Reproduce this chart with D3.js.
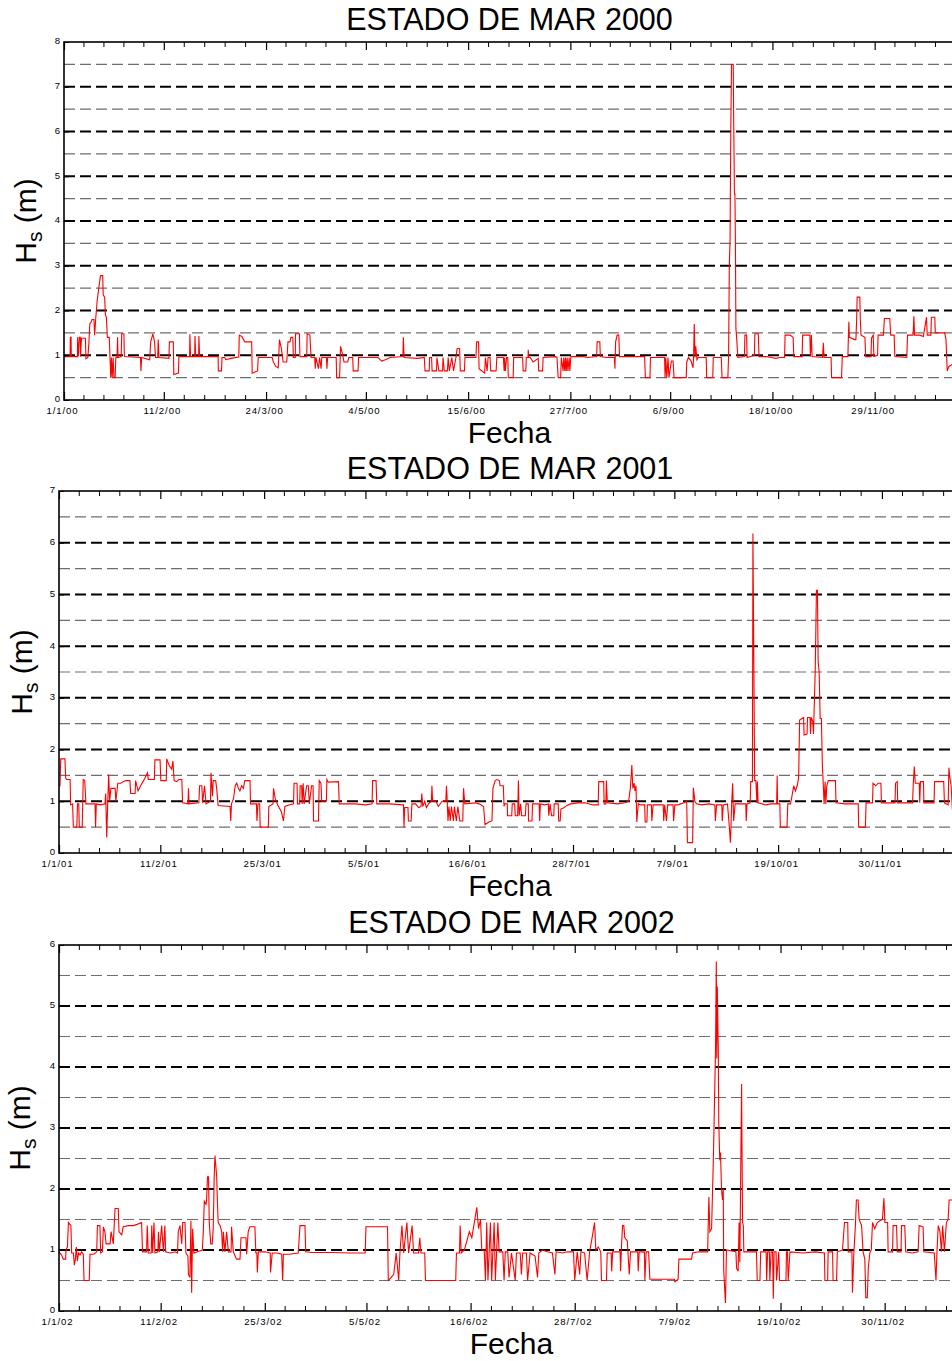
<!DOCTYPE html>
<html><head><meta charset="utf-8">
<script src="https://cdn.jsdelivr.net/npm/d3@7"></script>
<style>
body{margin:0;background:#fff}
svg{display:block}
text{font-family:"Liberation Sans",Arial,Helvetica,sans-serif;fill:#000}
</style>
</head><body>
<svg id="chart" width="952" height="1361"></svg>
<script>
// ---------------- DATA ----------------
const years = [2000, 2001, 2002];
const titles = ["ESTADO DE MAR 2000", "ESTADO DE MAR 2001", "ESTADO DE MAR 2002"];
const yMaxes = [8, 7, 6];
const xLabel = "Fecha";

const ticks2000 = ["1/1/00","11/2/00","24/3/00","4/5/00","15/6/00","27/7/00","6/9/00","18/10/00","29/11/00"];
const ticks2001 = ["1/1/01","11/2/01","25/3/01","5/5/01","16/6/01","28/7/01","7/9/01","19/10/01","30/11/01"];
const ticks2002 = ["1/1/02","11/2/02","25/3/02","5/5/02","16/6/02","28/7/02","7/9/02","19/10/02","30/11/02"];

// [day of year (from 1 January), Hs (m)]
const hs2000 = [[0,0.97],[2.5,0.97],[2.6,1.4],[2.9,1.4],[3,0.97],[5.5,0.97],[5.6,1.4],[5.9,0.97],[6.3,1.4],[6.7,1.4],[6.8,0.97],[7.2,1.38],[8.8,1.38],[9,0.92],[9.8,0.95],[10.2,1.25],[10.6,1.7],[11.2,1.75],[11.5,1.8],[12.3,1.8],[12.6,1.45],[13,1.8],[13.6,2.2],[14.4,2.55],[15,2.78],[15.9,2.78],[16.1,2.35],[16.7,2.3],[17,1.9],[17.4,1.85],[17.8,1.4],[18.6,1.4],[18.9,0.95],[19.2,0.5],[19.5,0.95],[19.8,0.5],[20.2,0.95],[20.5,0.5],[21,0.5],[21.3,0.95],[21.8,0.95],[22,1.4],[22.2,0.95],[23.5,0.97],[23.7,1.48],[24.6,1.48],[24.8,0.97],[31.4,0.95],[31.6,0.65],[31.9,0.95],[35.2,0.9],[35.6,1.3],[36.5,1.48],[37.2,1.3],[37.6,0.95],[38.5,0.95],[38.7,1.35],[39,0.95],[43.1,0.93],[43.3,1.3],[44.9,1.3],[45.1,0.57],[47,0.6],[47.2,0.97],[51.6,0.97],[51.7,1.47],[52,0.97],[53.7,0.97],[53.8,1.43],[54.1,0.97],[55.3,0.97],[55.4,1.43],[55.7,0.97],[63.3,0.97],[63.4,0.65],[64.7,0.65],[64.9,0.95],[66,0.95],[66.5,0.9],[68.5,0.93],[71.8,0.96],[72,1.45],[73,1.42],[74.3,1.3],[77.1,1.3],[77.3,0.6],[79.5,0.65],[79.8,0.95],[85.5,0.95],[86,0.85],[87,0.75],[88,0.72],[88.5,1.35],[89.3,1.15],[90,0.85],[91.5,0.85],[92,1.3],[92.8,1.3],[93.2,1.4],[94,1.4],[94.2,0.95],[95,0.95],[95.1,1.48],[96.7,1.48],[96.9,0.97],[99.7,0.97],[99.9,1.48],[101,1.45],[101.5,0.95],[103,0.95],[103.2,0.7],[103.5,0.95],[104.5,0.7],[105,0.95],[105.6,0.7],[105.9,0.95],[107.8,0.95],[108,0.7],[108.3,0.95],[111.8,0.95],[112,0.5],[113.2,0.5],[113.6,1.2],[114.3,1.05],[115,0.85],[116.5,0.85],[117,0.95],[118.6,0.95],[118.8,0.65],[120.8,0.65],[121,0.95],[129,0.95],[130.5,0.87],[132,0.9],[134,0.95],[139.2,0.97],[139.4,1.4],[139.7,0.95],[145.4,0.93],[148,0.95],[148.3,0.65],[150,0.65],[150.2,0.95],[151,0.95],[151.2,0.65],[153,0.65],[153.2,0.95],[154,0.65],[155.5,0.65],[155.7,0.95],[156.2,0.65],[157.5,0.65],[157.8,0.95],[158.3,0.65],[159.3,0.95],[160,0.65],[161,0.95],[161.5,1.15],[162.5,1.15],[162.8,0.65],[164.5,0.65],[164.7,0.95],[169.2,0.95],[169.5,1.3],[170.3,1.3],[170.5,0.7],[172.8,0.6],[173.1,0.95],[173.8,0.65],[174.2,0.95],[175,0.95],[175.3,0.65],[177.5,0.65],[177.8,0.95],[180.5,0.95],[180.8,0.65],
[181,0.95],[181.3,0.65],[181.8,0.95],[182.3,0.95],[182.5,0.5],[184.5,0.5],[184.7,0.95],[185.2,0.95],[188.4,0.95],[188.6,0.65],[189.7,0.65],[189.9,0.95],[190.6,0.95],[190.7,1.12],[190.9,0.95],[191.5,0.95],[192.7,0.85],[193.5,0.88],[194.8,0.93],[195,0.65],[196.6,0.65],[196.8,0.95],[202,0.97],[202.5,0.95],[203,0.5],[204,0.5],[204.3,0.95],[205,0.65],[205.3,0.95],[205.7,0.65],[206,0.95],[206.3,0.65],[206.7,0.95],[207,0.65],[207.5,0.95],[207.8,0.65],[208.2,0.97],[213.3,0.97],[215,0.95],[218.8,0.97],[219,1.3],[220.1,1.3],[220.3,0.97],[222.9,0.95],[226.1,0.95],[226.3,0.7],[226.6,1.3],[227.2,1.45],[227.9,1.45],[228.2,0.97],[238.5,0.97],[238.8,0.5],[240.7,0.5],[240.9,0.95],[246.7,0.95],[246.9,0.5],[247.2,0.95],[247.6,0.5],[248.1,0.95],[248.5,0.5],[249.5,0.87],[250.2,0.87],[250.6,0.5],[255.6,0.5],[255.8,0.85],[256.5,0.95],[257.6,0.87],[258.4,0.72],[258.6,0.95],[258.9,1.7],[259.2,0.95],[259.5,1.2],[260,0.9],[260.5,0.95],[263.8,0.95],[264,0.5],[266.5,0.5],[266.7,0.95],[270,0.95],[270.3,0.5],[272.7,0.5],[273,1.0],[273.3,3.0],[273.6,3.6],[273.9,6],[274.2,7.5],[274.9,7.5],[275.1,6.2],[275.4,4.6],[275.6,4.6],[275.8,3.5],[276,1.6],[276.3,1.4],[276.8,0.95],[279.5,0.97],[279.7,1.45],[280.4,1.45],[280.6,0.95],[283.6,1.0],[283.8,1.48],[285.2,1.48],[285.5,0.97],[288.6,0.97],[290.5,0.95],[292.5,0.93],[294,0.95],[296,0.95],[296.2,1.45],[298.2,1.45],[299.5,1.4],[299.8,0.97],[303.2,0.97],[303.4,1.45],[306.4,1.45],[306.6,0.97],[307,1.45],[307.3,0.97],[311.6,0.95],[311.9,1.28],[312.2,0.95],[315.1,0.95],[315.3,0.5],[319.4,0.5],[319.7,0.97],[322,0.97],[322.2,1.4],[322.4,1.75],[322.6,1.4],[324.8,1.35],[325.3,1.35],[325.6,1.8],[325.8,2.3],[326.9,2.3],[327.1,1.8],[327.4,1.45],[329,1.4],[329.3,0.97],[331.5,0.97],[331.7,1.38],[332.4,1.45],[332.7,0.97],[334.2,1.0],[334.4,1.45],[336.6,1.45],[337,1.82],[339.2,1.82],[339.6,1.45],[341,1.45],[341.3,0.97],[346.2,0.95],[346.5,1.45],[348.8,1.45],[349.1,1.87],[349.4,1.45],[351.5,1.45],[353,1.42],[354.3,1.85],[354.6,1.45],[356.1,1.45],[356.3,1.85],[357.7,1.85],[357.9,1.5],[361.8,1.5],[362.3,1.35],[362.8,0.65],[363.5,0.75],[365,0.8]];

const hs2001 = [[0,1.3],[0.4,1.3],[0.7,1.82],[2.4,1.82],[2.7,1.45],[3.1,1.42],[4.5,1.42],[4.7,0.93],[5.5,0.95],[5.8,0.5],[7.2,0.5],[7.5,0.95],[8,0.95],[8.2,0.5],[9.4,0.5],[9.8,1.42],[10.4,1.4],[10.9,0.95],[14.6,0.95],[14.8,0.5],[15.1,0.95],[17,0.93],[18.6,0.95],[18.9,1.15],[19.3,0.3],[19.7,0.95],[20.1,1.52],[20.5,1.0],[21,1.25],[22.7,1.25],[23,1.0],[23.8,1.35],[25,1.35],[26,1.38],[27,1.4],[28.7,1.4],[29,1.15],[30.8,1.15],[31,1.4],[32,1.2],[33,1.3],[34,1.38],[34.8,1.45],[35.8,1.55],[36.1,1.42],[38.6,1.42],[38.8,1.8],[40.9,1.8],[41.2,1.4],[43.4,1.4],[43.6,1.82],[44.5,1.7],[45.6,1.62],[46.1,1.78],[46.6,1.4],[47.6,1.38],[48.5,1.42],[49.7,1.42],[50,0.97],[52.2,0.95],[52.4,1.25],[52.6,0.95],[56.6,0.97],[56.9,1.3],[57.8,1.3],[58.1,0.97],[58.9,1.3],[59.5,0.95],[61.3,1.0],[61.5,1.55],[62.1,1.1],[62.4,1.4],[63.4,1.4],[63.8,1.25],[64.4,0.92],[69.2,0.9],[69.5,0.62],[69.8,0.95],[70.6,1.05],[71.3,1.3],[71.9,1.35],[72.6,1.25],[73.2,1.2],[73.9,1.3],[74.6,1.25],[75.2,1.4],[77.3,1.4],[77.5,0.95],[79.9,0.95],[80.1,0.62],[80.5,0.95],[81.2,0.95],[81.4,0.5],[84.7,0.5],[84.9,0.9],[86.6,0.95],[86.8,1.25],[87.5,1.05],[88.5,0.93],[90,0.8],[90.8,0.62],[91.4,0.9],[93,0.93],[94.9,0.95],[95.1,1.35],[96.3,1.35],[96.5,0.95],[97.4,0.95],[97.6,1.3],[98.2,1.3],[98.4,0.95],[98.8,1.35],[99.2,0.95],[100.2,1.3],[100.9,1.3],[101.3,0.95],[102.2,1.3],[102.8,1.3],[103,0.62],[105,0.62],[105.3,1.4],[106,1.35],[106.3,1.0],[108.2,1.0],[108.4,1.42],[109,1.37],[113.1,1.38],[113.4,0.95],[120,0.95],[124,0.93],[126.7,0.95],[126.9,1.4],[128.3,1.4],[128.6,0.95],[134,0.95],[139,0.93],[139.4,0.93],[139.6,0.5],[139.9,0.88],[141.2,0.88],[141.4,0.62],[142.5,0.62],[142.8,0.95],[144.3,0.95],[145.5,0.88],[146.5,0.9],[146.8,1.15],[147.2,0.9],[148,1.0],[148.7,0.88],[149.5,0.95],[150.7,1.0],[150.9,1.3],[151.2,1.0],[152.5,1.0],[153.5,0.9],[155,1.0],[156.5,1.0],[156.8,1.3],[157.1,1.0],[157.4,0.62],[157.8,0.9],[158.3,0.62],[158.8,0.9],[159.6,0.62],[160,0.9],[160.8,0.62],[161.4,0.9],[162.2,0.62],[163.4,0.62],[163.7,1.25],[164.2,0.95],[168.4,0.97],[170,0.95],[171.8,0.9],[172.4,0.55],[174,0.6],[175.2,0.62],[175.6,1.25],[176.5,1.4],[177.2,1.42],[178.2,1.4],[178.5,1.3],[179.8,1.3],[180.1,0.9],
[180.3,0.95],[181.4,0.95],[181.5,0.72],[183.2,0.72],[183.4,0.95],[184.4,0.95],[184.6,0.72],[185.6,0.72],[185.9,1.4],[186.2,0.72],[186.8,0.95],[187.2,0.72],[188.7,0.72],[189,0.95],[189.9,0.95],[190,0.62],[191.4,0.62],[191.6,0.95],[194.3,0.95],[194.5,0.62],[194.8,0.95],[196.5,0.93],[198,0.95],[198.2,0.72],[198.7,0.95],[199.3,0.72],[200.2,0.72],[200.4,0.95],[202,0.95],[202.2,0.62],[202.8,0.62],[203.1,0.85],[204.5,0.88],[205.5,0.92],[207,0.95],[210,0.97],[213,0.97],[216,0.93],[218.2,0.93],[218.4,1.38],[220.4,1.38],[220.6,0.95],[221.3,0.95],[221.5,1.4],[221.9,0.97],[226,0.95],[229,0.97],[230.5,1.0],[231.2,1.25],[231.8,1.7],[232.2,1.25],[232.7,1.35],[233.1,1.2],[233.5,1.3],[233.8,0.6],[234.4,0.95],[235.5,0.93],[237,0.93],[237.2,0.6],[237.9,0.6],[238.1,0.93],[239.7,0.93],[239.9,0.62],[240.4,0.93],[244.5,0.93],[244.7,0.62],[245.1,0.93],[245.8,0.62],[246.3,0.93],[248.5,0.93],[248.7,0.62],[249.2,0.93],[250.5,0.93],[251.5,0.95],[253,0.97],[254,1.0],[254.3,0.2],[256.4,0.2],[256.7,1.26],[257.3,1.0],[258,0.95],[260,0.93],[263,0.95],[265.4,0.93],[265.6,0.62],[266.1,0.93],[268.2,0.93],[268.4,0.62],[268.8,0.93],[270.5,0.95],[271.1,0.6],[271.7,0.2],[272.2,0.95],[272.6,1.35],[273,0.62],[273.6,0.95],[276,0.95],[277.9,0.95],[278.1,0.62],[278.4,0.95],[279.7,0.97],[279.9,1.38],[280.6,1.38],[280.8,6.18],[281.3,2.8],[281.5,1.4],[282,1.4],[282.4,0.97],[282.6,1.38],[282.9,0.97],[286,0.93],[288,0.95],[290.4,0.95],[290.6,1.5],[290.8,0.95],[291.7,0.95],[291.9,0.5],[294.6,0.5],[294.9,0.95],[296,0.95],[296.6,1.1],[297.3,1.3],[298,1.2],[298.7,1.3],[299.3,1.45],[299.7,2.57],[301.3,2.62],[301.5,2.28],[302.7,2.3],[302.9,2.62],[303.9,2.62],[304.1,2.3],[304.4,2.62],[305,2.55],[305.3,2.3],[306,3.5],[306.5,5.08],[306.9,5.08],[307.2,3.7],[307.6,3.5],[308,2.6],[308.5,2.6],[308.9,1.7],[309.2,1.4],[309.6,0.95],[310,1.38],[310.3,0.95],[310.7,1.3],[311.3,1.4],[314.2,1.4],[314.4,0.97],[318,0.95],[323.4,0.95],[323.6,0.5],[326.3,0.5],[326.6,0.97],[329.2,0.97],[329.4,1.35],[330.5,1.3],[331.5,1.35],[332.6,1.35],[332.8,0.97],[338.3,0.97],[338.5,1.35],[339.2,1.38],[339.4,0.97],[345.4,0.97],[345.7,1.35],[346.1,1.67],[346.5,1.35],[348.1,1.35],[348.3,0.97],[348.6,1.38],[349.8,1.38],[350,0.97],[354.1,0.97],[354.3,1.38],[358,1.38],[358.3,0.97],[359.8,0.93],[360.1,1.65],[360.5,1.45],[361,1.3],[361.5,0.85],[363,0.9],[365,1.0]];

const hs2002 = [[0,0.97],[0.4,0.95],[1,0.92],[1.7,0.85],[2.7,0.85],[2.8,1.0],[3.4,1.05],[3.8,1.45],[4.4,1.42],[4.8,1.4],[5.1,0.95],[5.8,0.95],[6.2,0.75],[6.6,0.85],[7,1.05],[7.4,0.82],[7.9,0.95],[8.5,0.92],[9.1,0.97],[9.8,0.93],[10.1,0.5],[12.2,0.5],[12.5,0.93],[14,0.93],[15.2,0.97],[15.5,1.4],[16.5,1.4],[16.8,0.95],[17.5,0.97],[17.9,1.38],[18.5,1.3],[19,1.1],[20.6,1.1],[21,1.3],[21.9,1.1],[22.6,1.68],[23.9,1.68],[24.2,1.3],[25.3,1.25],[25.9,1.38],[28,1.4],[30,1.4],[31.5,1.42],[33.3,1.45],[33.7,0.97],[35.3,0.97],[35.6,1.4],[36,0.95],[37.2,0.95],[37.4,1.4],[37.8,0.95],[38.3,1.45],[38.7,0.95],[39.9,0.97],[40.1,1.3],[40.5,0.97],[41.4,1.4],[42.1,0.97],[42.7,1.4],[43,0.97],[44.8,0.95],[47,0.97],[47.8,0.95],[48.1,1.3],[48.8,1.4],[49.5,1.1],[49.9,1.45],[50.8,1.45],[51.2,0.95],[52,0.9],[52.2,0.6],[52.8,0.55],[53.2,1.48],[53.5,0.3],[53.9,1.35],[54.4,0.95],[57.8,1.0],[58.2,1.3],[58.6,1.8],[59.3,1.75],[59.5,1.8],[59.9,2.2],[60.3,2.2],[60.6,1.45],[61.2,1.1],[61.8,1.1],[62.2,1.35],[62.6,2.2],[62.9,2.55],[63.6,2.2],[63.8,1.9],[64.2,1.45],[65,1.4],[65.6,1.3],[66,0.97],[66.3,1.3],[66.9,0.97],[67.6,1.3],[68.3,0.97],[69.4,0.97],[69.6,1.38],[70.3,0.97],[71.6,0.85],[73,0.85],[73.4,1.2],[75.4,1.2],[75.7,0.93],[76.3,1.3],[77,1.38],[79,1.38],[79.4,0.95],[79.8,0.95],[80,0.63],[80.4,0.97],[83,0.97],[85.2,0.95],[85.3,0.63],[86,0.95],[88,0.95],[89.8,0.93],[90.2,0.5],[90.5,0.93],[93,0.93],[96.5,0.95],[97.2,1.4],[99.2,1.4],[99.5,0.97],[102,0.96],[105.2,0.96],
[110,0.96],[118,0.95],[123.5,0.95],[123.8,1.38],[132.5,1.38],[132.8,0.5],[134,0.55],[135,0.6],[136,0.95],[137,0.5],[137.5,0.95],[138.3,1.4],[139,0.95],[140.3,1.45],[141,0.95],[142.4,1.4],[143,0.95],[145,0.95],[145.5,1.2],[146,0.95],[147.5,0.95],[147.8,0.5],[160,0.5],[160.3,0.95],[161.5,0.95],[161.8,1.4],[162.2,0.95],[163.5,1.0],[164.5,1.15],[165.5,1.3],[166.5,1.2],[167.5,1.45],[168.5,1.7],[169.2,1.35],[170,1.5],[170.5,1.0],[171.5,1.0],[172,0.5],[172.5,1.45],[173,0.5],[174,1.45],[174.5,0.5],[175.5,1.45],[176,0.5],[177,1.45],[177.5,0.97],[179,0.97],[179.5,0.5],[180,0.97],[181,0.97],[181.5,0.55],[182.5,0.95],[184,0.5],[184.5,0.95],[186,0.95],[186.5,0.6],[187,0.95],[188.5,0.95],[189,0.5],[190,0.95],[192,0.9],[193,0.55],[193.5,0.95],[195,1.0],[197,0.97],[199,0.95],[200,0.6],[200.5,0.97],[203,0.95],[205,0.97],[207.5,0.97],[208,0.5],[209,0.97],[210,0.6],[210.5,0.97],[212,0.95],[213,0.5],[214,0.97],[215,1.2],[216,1.45],[216.5,1.0],[217.5,1.05],[218.5,0.97],
[218.8,0.5],[220.8,0.5],[221.1,0.95],[222.7,0.95],[222.9,0.65],[223.3,0.97],[226.3,0.97],[226.5,0.65],[226.9,1.1],[227.3,1.4],[227.8,1.4],[228.2,1.2],[229.2,1.15],[230,0.6],[230.5,0.97],[233.4,0.97],[233.6,0.65],[234,0.97],[236.1,0.97],[236.3,0.5],[236.8,0.97],[237.8,0.97],[238.3,0.52],[243,0.52],[248.2,0.52],[248.4,0.48],[249.7,0.52],[250,0.85],[255.1,0.85],[255.5,0.95],[258,0.97],[261.6,0.97],[262.1,1.87],[262.5,1.3],[263.2,1.35],[263.9,2.47],[264.1,2.86],[264.8,4.33],[265.1,5.73],[265.3,4.14],[265.5,5.32],[265.9,4.3],[266.1,3.08],[266.5,2.47],[266.8,2.6],[267.2,2.0],[267.6,1.82],[267.9,2.0],[268.1,0.65],[268.8,0.13],[269.2,1.0],[273,0.97],[273.3,0.7],[273.9,0.65],[274.3,1.45],[274.6,0.8],[275,2.5],[275.3,3.72],[275.5,2.5],[275.7,1.45],[276,1.4],[276.2,0.97],[281.3,0.97],[281.6,0.5],[282.7,0.5],[283,0.97],[285.2,0.97],[285.4,0.5],[285.8,0.97],[286.5,0.97],[286.7,0.5],[287.2,0.97],[287.8,0.97],[288.1,0.2],[288.4,0.97],[289.2,0.97],[289.4,0.5],[290.3,0.97],[290.6,0.5],[291.4,0.5],[293.2,0.5],[293.4,0.97],[293.8,0.97],[294.1,0.5],[294.8,0.97],[300,0.95],[305,0.97],[308.7,0.95],[308.9,0.5],[310,0.5],[310.2,0.97],[312,0.97],[312.2,0.5],[313.6,0.5],[313.9,0.97],[316,1.0],[316.8,1.45],[318.1,1.45],[318.3,0.97],[319.8,0.97],[320,0.3],[320.6,0.97],[321.2,1.4],[321.6,1.82],[322.3,1.82],[322.7,1.5],[323.2,1.45],[323.7,1.4],[324.3,0.97],[325,0.85],[325.4,0.22],[326,0.22],[326.4,0.7],[327,0.95],[327.6,1.0],[328.1,1.45],[329,1.35],[330,1.45],[331.1,1.48],[332.1,1.5],[332.7,1.85],[333.1,1.45],[334.2,1.45],[334.4,0.97],[336.2,0.97],[336.4,1.4],[337.8,1.4],[338.1,0.97],[339.6,0.97],[339.8,1.4],[341.1,1.4],[341.5,0.97],[344,0.95],[346.5,0.97],[346.9,1.4],[348.5,1.38],[348.8,0.97],[353,0.95],[353.7,0.5],[354.1,0.97],[354.6,1.4],[355.3,1.3],[355.9,0.97],[356.4,1.4],[357.1,0.97],[357.9,1.45],[358.6,1.5],[359,1.82],[360.1,1.82],[361.5,1.8],[363,1.82],[365,1.8]];

const tickSets = [ticks2000, ticks2001, ticks2002];
const seriesSets = [hs2000, hs2001, hs2002];

// ---------------- LAYOUT ----------------
const panels = [
  {left: 64, right: 955, top: 42, bottom: 400, ylabX: 26},
  {left: 59, right: 961, top: 491, bottom: 853, ylabX: 22},
  {left: 59, right: 964, top: 945, bottom: 1311, ylabX: 20}
];
const tickFont = '"Liberation Sans",Arial,sans-serif';

const svg = d3.select("#chart");
svg.append("rect").attr("width", 952).attr("height", 1361).attr("fill", "#fff");
const parse = d3.timeParse("%d/%m/%y");
const fmt = d3.timeFormat("%-d/%-m/%y");
const DAY = 864e5;

panels.forEach((p, i) => {
  const year = years[i];
  const start = new Date(year, 0, 1), end = new Date(year + 1, 0, 1);
  const x = d3.scaleTime().domain([start, end]).range([p.left, p.right]);
  const y = d3.scaleLinear().domain([0, yMaxes[i]]).range([p.bottom, p.top]);
  const g = svg.append("g");

  // grid lines (dashed), integer black, halves grey
  const gridVals = y.ticks(yMaxes[i] * 2).filter(v => v > 0 && v < yMaxes[i]);
  g.append("g").selectAll("line").data(gridVals).join("line")
    .attr("x1", p.left).attr("x2", p.right)
    .attr("y1", d => y(d)).attr("y2", d => y(d))
    .attr("stroke", d => Number.isInteger(d) ? "#000" : "#6e6e6e")
    .attr("stroke-width", d => Number.isInteger(d) ? 2 : 1.2)
    .attr("stroke-dasharray", "11,5");

  // data line
  const pts = seriesSets[i].map(([d, v]) => ({t: new Date(start.getTime() + d * DAY), v}));
  g.append("path").datum(pts)
    .attr("fill", "none").attr("stroke", "#ff0000").attr("stroke-width", 1.1)
    .attr("stroke-linejoin", "miter")
    .attr("d", d3.line().x(d => x(d.t)).y(d => y(d.v)));

  // major ticks
  const majors = tickSets[i].map(s => parse(s));
  const minors = [];
  for (let k = 0; k < majors.length - 1; k++) {
    const a = +majors[k], b = +majors[k + 1];
    for (let j = 1; j < 5; j++) minors.push(new Date(a + (b - a) * j / 5));
  }
  const step = (+majors[majors.length - 1] - +majors[0]) / (majors.length - 1) / 5;
  for (let t = +majors[majors.length - 1] + step; t < +end; t += step) minors.push(new Date(t));

  const xb = d3.axisBottom(x).tickValues(majors).tickFormat(fmt)
    .tickSizeInner(-8).tickSizeOuter(0).tickPadding(7);
  const gx = g.append("g").attr("transform", `translate(0,${p.bottom})`).call(xb);
  gx.select(".domain").remove();
  gx.selectAll("text").attr("font-size", 9.6).attr("letter-spacing", 0.9)
    .attr("font-family", tickFont).attr("dx", -2);
  gx.selectAll("line").attr("stroke-width", 1.2);

  const xt = d3.axisTop(x).tickValues(majors).tickFormat("")
    .tickSizeInner(-8).tickSizeOuter(0);
  const gxt = g.append("g").attr("transform", `translate(0,${p.top})`).call(xt);
  gxt.select(".domain").remove();
  gxt.selectAll("line").attr("stroke-width", 1.2);

  // minor ticks, bottom and top
  g.append("g").selectAll("line").data(minors).join("line")
    .attr("x1", d => x(d)).attr("x2", d => x(d))
    .attr("y1", p.bottom).attr("y2", p.bottom - 5).attr("stroke", "#000").attr("stroke-width", 1);
  g.append("g").selectAll("line").data(minors).join("line")
    .attr("x1", d => x(d)).attr("x2", d => x(d))
    .attr("y1", p.top).attr("y2", p.top + 5).attr("stroke", "#000").attr("stroke-width", 1);

  // y axis
  const ya = d3.axisLeft(y).ticks(yMaxes[i]).tickFormat(d3.format("d"))
    .tickSizeInner(-5).tickSizeOuter(0).tickPadding(4);
  const gy = g.append("g").attr("transform", `translate(${p.left},0)`).call(ya);
  gy.select(".domain").remove();
  gy.selectAll("text").attr("font-size", 9.6).attr("font-family", tickFont).attr("dy", "0.2em");

  // frame
  g.append("rect").attr("x", p.left).attr("y", p.top)
    .attr("width", p.right - p.left).attr("height", p.bottom - p.top)
    .attr("fill", "none").attr("stroke", "#000").attr("stroke-width", 1.6);

  const cx = (p.left + p.right) / 2;
  g.append("text").attr("x", cx).attr("y", p.top - 12).attr("text-anchor", "middle")
    .attr("font-size", 30.5).text(titles[i]);
  g.append("text").attr("x", cx).attr("y", p.bottom + 43).attr("text-anchor", "middle")
    .attr("font-size", 30).text(xLabel);
  const cy = (p.top + p.bottom) / 2;
  const yl = g.append("text").attr("text-anchor", "middle").attr("font-size", 30)
    .attr("transform", `translate(${p.ylabX + 10},${cy}) rotate(-90)`);
  yl.append("tspan").text("H");
  yl.append("tspan").attr("font-size", 21).attr("dy", 6).text("s");
  yl.append("tspan").attr("dy", -6).text(" (m)");
});
</script>
</body></html>
